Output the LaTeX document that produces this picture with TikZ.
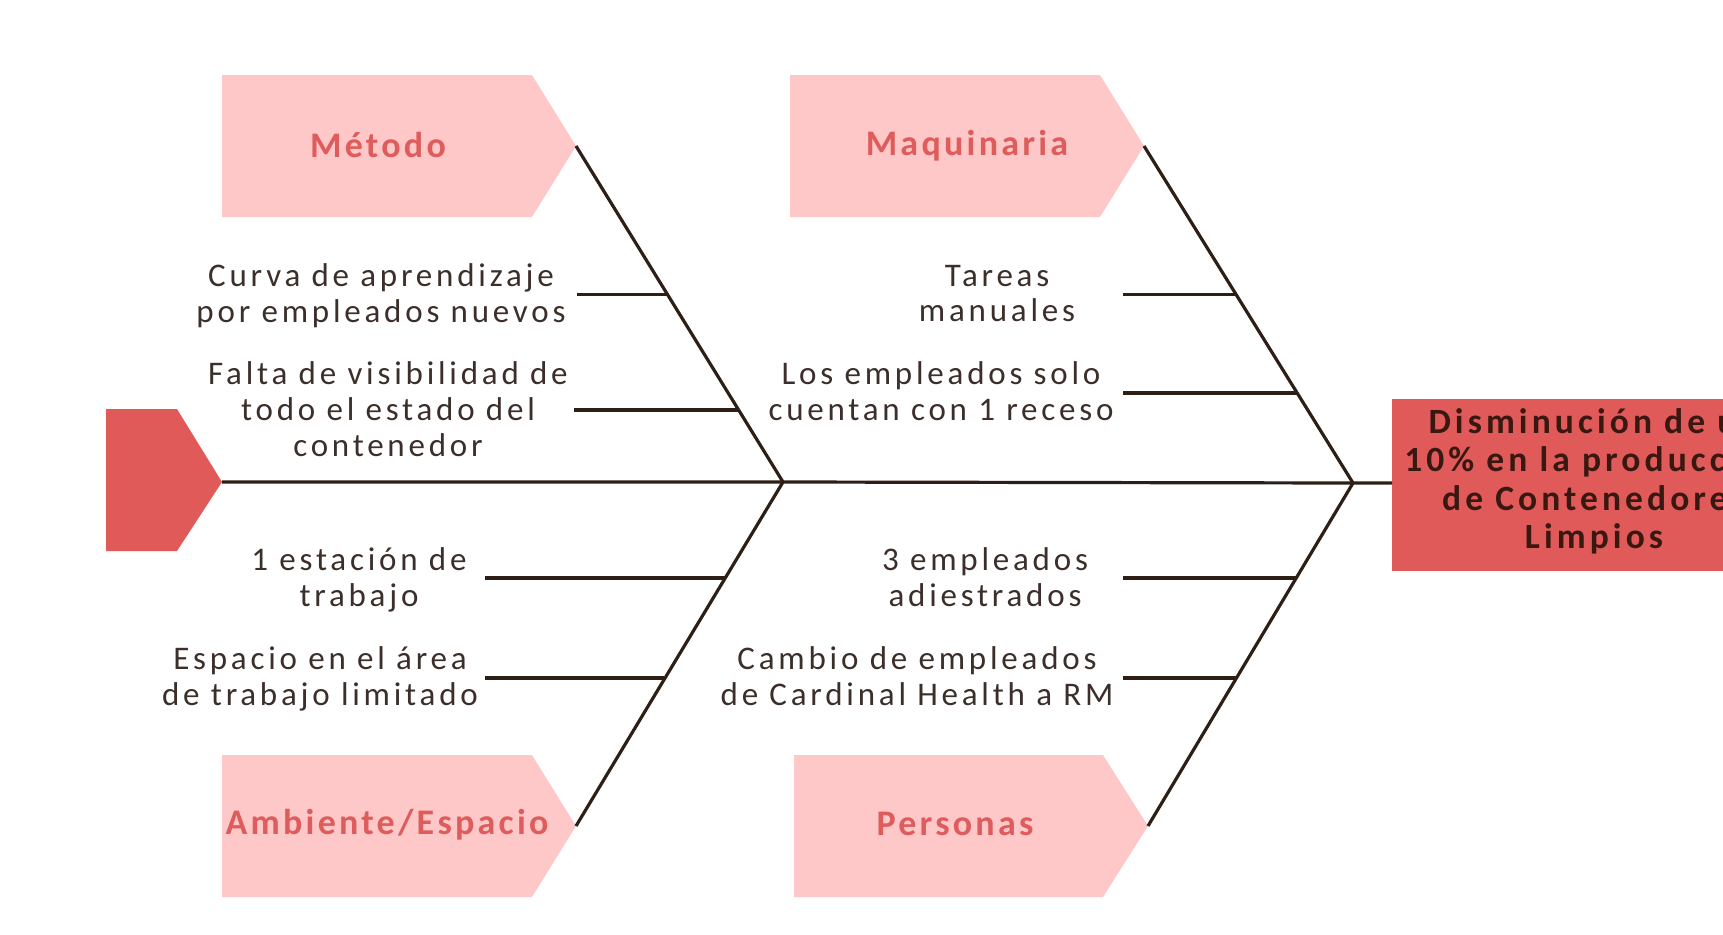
\documentclass[tikz,border=0pt]{standalone}
\usepackage{fontspec}
\setmainfont{Carlito}
\newfontfamily\bodyfont[LetterSpace=11.5]{Carlito}
\newfontfamily\catfont[LetterSpace=9]{Carlito}
\newfontfamily\headfont[LetterSpace=11.5]{Carlito}
\definecolor{pinkc}{RGB}{255,200,200}
\definecolor{redc}{RGB}{224,90,90}
\definecolor{catc}{RGB}{222,92,92}
\definecolor{linec}{RGB}{45,30,22}
\definecolor{txtc}{RGB}{60,47,42}
\definecolor{headc}{RGB}{58,24,18}
\begin{document}
\begin{tikzpicture}[x=1pt,y=-1pt,
  bone/.style={draw=linec, line width=3.2pt},
  twig/.style={draw=linec, line width=3.2pt},
  cause/.style={font=\bodyfont\fontsize{33}{35.8}\selectfont, text=txtc, align=center, inner sep=0pt},
  cat/.style={font=\catfont\bfseries\fontsize{36}{40}\selectfont, text=catc, inner sep=0pt},
  headtxt/.style={font=\headfont\bfseries\fontsize{35.5}{38.5}\selectfont, text=headc, align=center, inner sep=0pt}]
\useasboundingbox (0,0) rectangle (1723,934);
\clip (0,0) rectangle (1723,934);

% category arrows
\fill[pinkc] (222,75) -- (532,75) -- (576,146) -- (532,217) -- (222,217) -- cycle;
\fill[pinkc] (790,75) -- (1100,75) -- (1144,146) -- (1100,217) -- (790,217) -- cycle;
\fill[pinkc] (222,755) -- (532,755) -- (576,826) -- (532,897) -- (222,897) -- cycle;
\fill[pinkc] (794,755) -- (1103,755) -- (1148,826) -- (1103,897) -- (794,897) -- cycle;
\node[cat] (metodo) at (378,145) {Método};
\node[cat] (maquinaria) at (967,146) {Maquinaria};
\node[cat] (ambiente) at (387,825) {Ambiente/Espacio};
\node[cat] (personas) at (955,824) {Personas};

% tail
\fill[redc] (106,409) -- (177,409) -- (222,482) -- (177,551) -- (106,551) -- cycle;

% head
\node[fill=redc, minimum width=420pt, minimum height=172pt, anchor=north west, inner sep=0pt] (head) at (1392,399) {};
\node[headtxt] (headtext) at (1594,481.5) {Disminución de un\\10\% en la producción\\de Contenedores\\Limpios};

% coordinates
\coordinate (tail) at (222,482);
\coordinate (j1) at (783,482);
\coordinate (j2) at (1353,483);
\coordinate (headin) at (1392,483);
\coordinate (mtip) at (576,146);
\coordinate (qtip) at (1144,146);
\coordinate (atip) at (576,826);
\coordinate (ptip) at (1148,826);

% spine and bones
\draw[bone] (tail) -- (j1) -- (j2) -- (headin);
\draw[bone] (mtip) -- (j1);
\draw[bone] (atip) -- (j1);
\draw[bone] (qtip) -- (j2);
\draw[bone] (ptip) -- (j2);

% cause texts
\node[cause] (curva) at (381,295.5) {Curva de aprendizaje\\por empleados nuevos};
\node[cause] (falta) at (388,409) {Falta de visibilidad de\\todo el estado del\\contenedor};
\node[cause] (tareas) at (997,293.5) {Tareas\\manuales};
\node[cause] (receso) at (941,391.5) {Los empleados solo\\cuentan con 1 receso};
\node[cause] (estacion) at (359,580) {1 estación de\\trabajo};
\node[cause] (espacio) at (320,678.5) {Espacio en el área\\de trabajo limitado};
\node[cause] (tres) at (985,577.5) {3 empleados\\adiestrados};
\node[cause] (cambio) at (917,676) {Cambio de empleados\\de Cardinal Health a RM};

% twigs
\coordinate (c1a) at (577,294.5); \coordinate (c1b) at (667.5,294.5);
\coordinate (c2a) at (574,410);   \coordinate (c2b) at (738.6,410);
\coordinate (c3a) at (1123,294.5);\coordinate (c3b) at (1236,294.5);
\coordinate (c4a) at (1123,393);  \coordinate (c4b) at (1297,393);
\coordinate (c5a) at (485,578);   \coordinate (c5b) at (724.7,578);
\coordinate (c6a) at (485,678);   \coordinate (c6b) at (664,678);
\coordinate (c7a) at (1123,578);  \coordinate (c7b) at (1296,578);
\coordinate (c8a) at (1123,678);  \coordinate (c8b) at (1236,678);
\draw[twig] (c1a) -- (c1b);
\draw[twig] (c2a) -- (c2b);
\draw[twig] (c3a) -- (c3b);
\draw[twig] (c4a) -- (c4b);
\draw[twig] (c5a) -- (c5b);
\draw[twig] (c6a) -- (c6b);
\draw[twig] (c7a) -- (c7b);
\draw[twig] (c8a) -- (c8b);
\end{tikzpicture}
\end{document}
